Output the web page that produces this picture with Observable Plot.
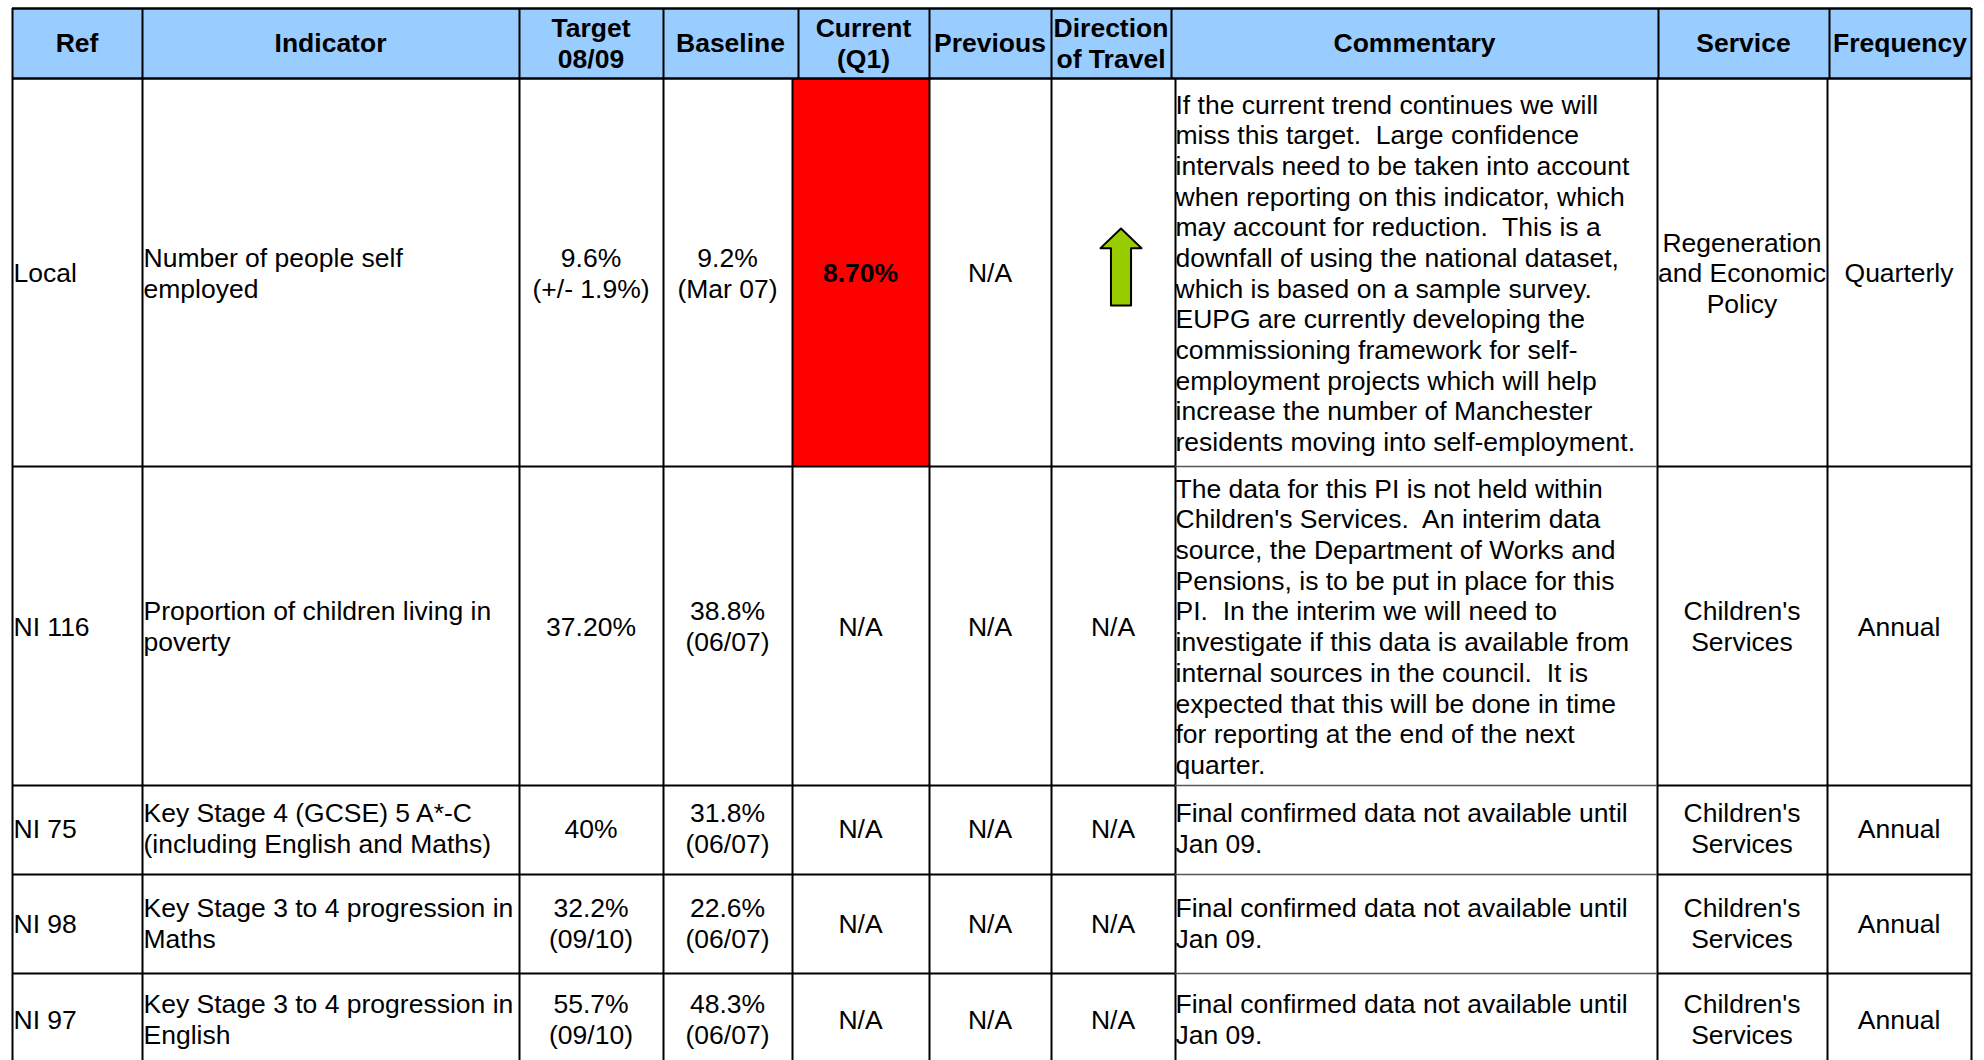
<!DOCTYPE html>
<html>
<head>
<meta charset="utf-8">
<script src="https://cdn.jsdelivr.net/npm/d3@7"></script>
<script src="https://cdn.jsdelivr.net/npm/@observablehq/plot@0.6"></script>
<style>
html,body{margin:0;padding:0;background:#fff;overflow:hidden}
svg{display:block}
</style>
</head>
<body>
<script>
// ---- table content ----
const headers = ["Ref","Indicator","Target\n08/09","Baseline","Current\n(Q1)","Previous","Direction\nof Travel","Commentary","Service","Frequency"];
const refs = ["Local","NI 116","NI 75","NI 98","NI 97"];
const indicators = ["Number of people self\nemployed","Proportion of children living in\npoverty","Key Stage 4 (GCSE) 5 A*-C\n(including English and Maths)","Key Stage 3 to 4 progression in\nMaths","Key Stage 3 to 4 progression in\nEnglish"];
const targets = ["9.6%\n(+/- 1.9%)","37.20%","40%","32.2%\n(09/10)","55.7%\n(09/10)"];
const baselines = ["9.2%\n(Mar 07)","38.8%\n(06/07)","31.8%\n(06/07)","22.6%\n(06/07)","48.3%\n(06/07)"];
const currents = ["8.70%","N/A","N/A","N/A","N/A"];
const previous = ["N/A","N/A","N/A","N/A","N/A"];
const directions = ["","N/A","N/A","N/A","N/A"];
const commentary = [
"If the current trend continues we will\nmiss this target.  Large confidence\nintervals need to be taken into account\nwhen reporting on this indicator, which\nmay account for reduction.  This is a\ndownfall of using the national dataset,\nwhich is based on a sample survey.\nEUPG are currently developing the\ncommissioning framework for self-\nemployment projects which will help\nincrease the number of Manchester\nresidents moving into self-employment.",
"The data for this PI is not held within\nChildren's Services.  An interim data\nsource, the Department of Works and\nPensions, is to be put in place for this\nPI.  In the interim we will need to\ninvestigate if this data is available from\ninternal sources in the council.  It is\nexpected that this will be done in time\nfor reporting at the end of the next\nquarter.",
"Final confirmed data not available until\nJan 09.",
"Final confirmed data not available until\nJan 09.",
"Final confirmed data not available until\nJan 09."];
const services = ["Regeneration\nand Economic\nPolicy","Children's\nServices","Children's\nServices","Children's\nServices","Children's\nServices"];
const frequencies = ["Quarterly","Annual","Annual","Annual","Annual"];
const columns = [refs,indicators,targets,baselines,currents,previous,directions,commentary,services,frequencies];
const leftAligned = new Set(["Ref","Indicator","Commentary"]);

// ---- table layout (page units of the position scales) ----
const headEdges = [12,142,519,663,798,929,1051,1171,1658,1829,1971];
const bodyEdges = [12,142,519,663,792,929,1051,1175,1657,1827,1971];
const rowEdges = [78,466,785,874,973,1066]; // the last row runs past the picture's lower edge
const rowNudge = [0,0,-2,-1,-1];
const tableTop = 8;
const pad = 1;
const font = "'Liberation Sans', Arial, sans-serif";
const fontSize = 26.5;
const arrowCell = {x:1120.5, y:266.5};

// ---- derived tables ----
const headCells = headers.map((text,c)=>({text,
  x:(headEdges[c]+headEdges[c+1])/2 - 0.5, y:(tableTop+rowEdges[0])/2 - 1}));
const bodyCells = columns.flatMap((col,c)=>col.map((text,r)=>{
  const left = leftAligned.has(headers[c]);
  return {text, left, bold: headers[c].startsWith("Current") && r===0,
    x: left ? bodyEdges[c]+(headers[c]==="Commentary"?pad-1:pad) : (bodyEdges[c]+bodyEdges[c+1])/2 - 0.5,
    y:(rowEdges[r]+rowEdges[r+1])/2 + rowNudge[r]};
})).filter(d=>d.text);

const arrowShape = {draw(ctx,l,r){
  const shaft = r*0.49;
  const head = l*0.745;
  ctx.moveTo(-shaft,0); ctx.lineTo(shaft,0); ctx.lineTo(shaft,-head);
  ctx.lineTo(r,-head); ctx.lineTo(0,-l); ctx.lineTo(-r,-head);
  ctx.lineTo(-shaft,-head); ctx.closePath();
}};

const black = "#000";
const hSegments = [
  {x1:headEdges[0],x2:headEdges[10],y:tableTop,w:2.6,s:black},
  {x1:headEdges[0],x2:headEdges[10],y:rowEdges[0],w:2.4,s:black},
  ...rowEdges.slice(1,5).flatMap(y=>[
    {x1:bodyEdges[0],x2:bodyEdges[7],y,w:2,s:black},
    {x1:bodyEdges[7],x2:bodyEdges[8],y,w:1.5,s:"#555"},
    {x1:bodyEdges[8],x2:bodyEdges[10],y,w:2,s:black}
  ])
];

const textCommon = {x:"x",y:"y",text:"text",fontSize,fontFamily:font,fill:black,lineHeight:1.158,lineWidth:Infinity};

const plot = Plot.plot({
  width:1984, height:1060,
  margin:0,
  style:{background:"#fff",fontFamily:font},
  x:{type:"identity",axis:null},
  y:{type:"identity",axis:null},
  marks:[
    Plot.rect(headCells,{x1:(d,i)=>headEdges[i],x2:(d,i)=>headEdges[i+1],y1:tableTop,y2:rowEdges[0],fill:"#99CCFF"}),
    Plot.rect(currents.slice(0,1),{x1:bodyEdges[4],x2:bodyEdges[5],y1:rowEdges[0],y2:rowEdges[1],fill:"#FF0000"}),
    Plot.ruleX(headEdges,{x:d=>d,y1:tableTop,y2:rowEdges[0],stroke:black,strokeWidth:2}),
    Plot.ruleX(bodyEdges,{x:d=>d,y1:rowEdges[0],y2:rowEdges[5],stroke:black,strokeWidth:2}),
    Plot.ruleY(hSegments,{y:"y",x1:"x1",x2:"x2",stroke:"s",strokeWidth:"w"}),
    Plot.text(headCells,{...textCommon,fontWeight:"bold",textAnchor:"middle"}),
    Plot.text(bodyCells.filter(d=>d.left),{...textCommon,textAnchor:"start"}),
    Plot.text(bodyCells.filter(d=>!d.left&&!d.bold),{...textCommon,textAnchor:"middle"}),
    Plot.text(bodyCells.filter(d=>d.bold),{...textCommon,fontWeight:"bold",textAnchor:"middle"}),
    Plot.vector([arrowCell],{x:"x",y:"y",length:77,r:20.5,anchor:"middle",shape:arrowShape,fill:"#99CC00",stroke:black,strokeWidth:2})
  ]
});
document.body.appendChild(plot);
</script>
</body>
</html>
